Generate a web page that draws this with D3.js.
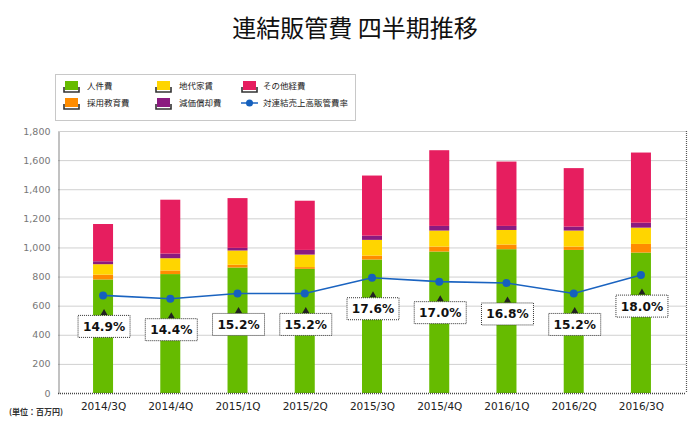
<!DOCTYPE html>
<html><head><meta charset="utf-8">
<script src="https://cdn.jsdelivr.net/npm/d3@7"></script>
<style>body{margin:0;background:#fff}svg{display:block}</style>
</head><body><svg id="c" width="700" height="433"></svg>
<script>
const categories = ["2014/3Q","2014/4Q","2015/1Q","2015/2Q","2015/3Q","2015/4Q","2016/1Q","2016/2Q","2016/3Q"];
const personnel = [780, 817, 862, 853, 917, 972, 988, 983, 965];
const recruiting = [33, 25, 19, 12, 27, 34, 32, 23, 59];
const rent = [72, 84, 98, 86, 108, 110, 100, 110, 112];
const depreciation = [20, 32, 18, 32, 29, 32, 28, 27, 34];
const other = [256, 370, 342, 338, 413, 520, 442, 402, 482];
const ratio = [14.9, 14.4, 15.2, 15.2, 17.6, 17.0, 16.8, 15.2, 18.0];
const yTicks = [0,200,400,600,800,1000,1200,1400,1600,1800];
const seriesNames = ["人件費","採用教育費","地代家賃","減価償却費","その他経費"];
const lineName = "対連結売上高販管費率";
const colors = ["#66bb00","#ff8c00","#ffd500","#8b1a80","#e61e5f"];

const svg = d3.select("#c");
const L=58, R=686, T=131, B=393;
const x = d3.scalePoint().domain(categories).range([L,R]).padding(0.67);
const y = d3.scaleLinear().domain([0,1800]).range([B,T]);
const y2 = d3.scaleLinear().domain([0,40]).range([B,T]);
const font = "'DejaVu Sans', Verdana, sans-serif";
const jfont = "'Noto Sans CJK JP', sans-serif";

// title
svg.append("text").attr("x",355).attr("y",37).attr("text-anchor","middle")
  .attr("font-family",jfont).attr("font-size",24).attr("fill","#111").text("連結販管費 四半期推移");

// legend
svg.append("rect").attr("x",55.5).attr("y",74.5).attr("width",300).attr("height",46)
  .attr("fill","#fff").attr("stroke","#c8c8c8");
const legItems = [
  {n:seriesNames[0],c:colors[0],col:0,row:0},
  {n:seriesNames[2],c:colors[2],col:1,row:0},
  {n:seriesNames[4],c:colors[4],col:2,row:0},
  {n:seriesNames[1],c:colors[1],col:0,row:1},
  {n:seriesNames[3],c:colors[3],col:1,row:1},
  {n:lineName,c:null,col:2,row:1}];
const colX=[65,157,243], rowY=[89,106];
legItems.forEach(d=>{
  const g = svg.append("g").attr("transform",`translate(${colX[d.col]},${rowY[d.row]})`);
  if(d.c){
    g.append("rect").attr("x",0).attr("y",-8).attr("width",13).attr("height",9).attr("fill",d.c);
    g.append("path").attr("d","M-1,-2 L-1,3 L14,3 L14,-2").attr("fill","none").attr("stroke","#333").attr("stroke-width",1.6);
  } else {
    g.append("line").attr("x1",-2).attr("x2",15).attr("y1",-3).attr("y2",-3).attr("stroke","#1a63c0").attr("stroke-width",1.5);
    g.append("circle").attr("cx",6.5).attr("cy",-3).attr("r",3.5).attr("fill","#1560bd");
  }
  g.append("text").attr("x",d.col===2?20:22).attr("y",0).attr("font-family",jfont).attr("font-size",8.5)
    .attr("fill","#222").text(d.n);
});

// gridlines
svg.append("g").selectAll("line").data(yTicks.filter(t=>t>0)).join("line")
  .attr("x1",L).attr("x2",R).attr("y1",d=>y(d)+0.5).attr("y2",d=>y(d)+0.5)
  .attr("stroke","#d0d0d0").attr("stroke-width",1);
// frame
svg.append("line").attr("x1",R+0.5).attr("x2",R+0.5).attr("y1",T).attr("y2",B)
  .attr("stroke","#555").attr("stroke-width",1.2).attr("stroke-dasharray","1,1");

// y axis
const ya = svg.append("g").attr("transform",`translate(${L+0.5},0)`)
  .call(d3.axisLeft(y).tickValues(yTicks).tickFormat(d3.format(",")).tickSize(0).tickPadding(8));
ya.select(".domain").attr("stroke","#444").attr("stroke-dasharray","1,1").attr("stroke-width",1.3);
ya.selectAll("text").attr("font-family",font).attr("font-size",9.5).attr("fill","#777");

// bars
const rows = categories.map((c,i)=>({cat:c, s0:personnel[i], s1:recruiting[i], s2:rent[i], s3:depreciation[i], s4:other[i]}));
const stack = d3.stack().keys(["s0","s1","s2","s3","s4"])(rows);
const bw = 20;
svg.append("g").selectAll("g").data(stack).join("g").attr("fill",(d,i)=>colors[i])
  .selectAll("rect").data(d=>d).join("rect")
  .attr("x",d=>x(d.data.cat)-bw/2).attr("width",bw)
  .attr("y",d=>y(d[1])).attr("height",d=>y(d[0])-y(d[1]));

// x axis
const xa = svg.append("g").attr("transform",`translate(0,${B+0.5})`)
  .call(d3.axisBottom(x).tickSize(0).tickPadding(9));
xa.select(".domain").attr("stroke","#444").attr("stroke-dasharray","1,1").attr("stroke-width",1.3).attr("d",`M${L},0H${R}`);
xa.selectAll("text").attr("font-family",font).attr("font-size",10.5).attr("fill","#222");

// line
svg.append("path").datum(ratio).attr("fill","none").attr("stroke","#1a63c0").attr("stroke-width",1.6)
  .attr("d",d3.line().x((d,i)=>x(categories[i])).y(d=>y2(d)));
svg.append("g").selectAll("circle").data(ratio).join("circle")
  .attr("cx",(d,i)=>x(categories[i])).attr("cy",d=>y2(d)).attr("r",4).attr("fill","#1560bd");

// labels
const lg = svg.append("g").selectAll("g").data(ratio).join("g")
  .attr("transform",(d,i)=>`translate(${x(categories[i])+1},${y2(d)+19.5})`);
lg.append("path").attr("d","M-3.5,0 L0,-6 L3.5,0 Z").attr("fill","#222");
lg.append("rect").attr("x",-26).attr("y",0.5).attr("width",52).attr("height",22)
  .attr("fill","#fff").attr("stroke","#333").attr("stroke-width",1).attr("stroke-dasharray","1,1");
lg.append("text").attr("x",0).attr("y",16).attr("text-anchor","middle").attr("font-family",font)
  .attr("font-weight","bold").attr("font-size",12.2).attr("fill","#111").text(d=>d.toFixed(1)+"%");

// unit
svg.append("text").attr("x",9).attr("y",415).attr("font-family",jfont).attr("font-size",8)
  .attr("font-weight","bold").attr("fill","#333").text("(単位：百万円)");
</script></body></html>
